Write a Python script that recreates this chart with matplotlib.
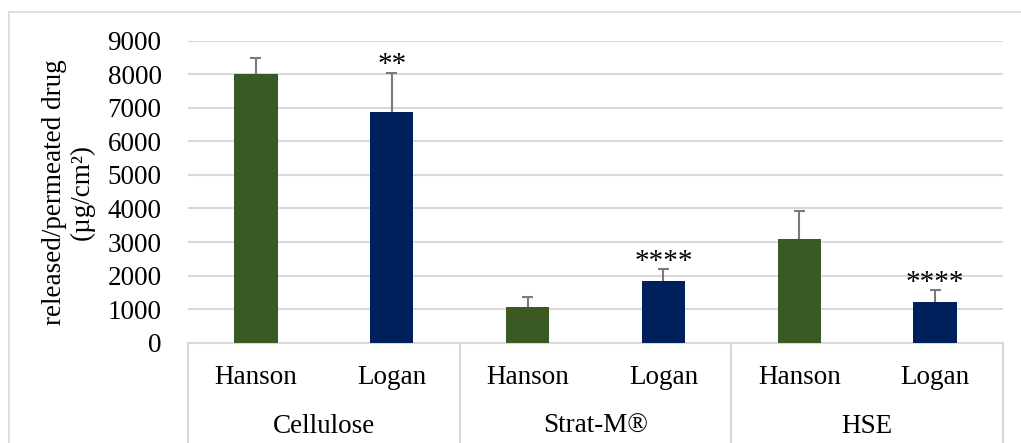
import numpy as np
import matplotlib.pyplot as plt
from matplotlib.lines import Line2D
from matplotlib.patches import Rectangle
import matplotlib.transforms as mtransforms

plt.rcParams['font.family'] = ['Liberation Serif', 'DejaVu Serif']

# membranes and cells
groups = ['Cellulose', 'Strat-M®', 'HSE']
cells = ['Hanson', 'Logan', 'Hanson', 'Logan', 'Hanson', 'Logan']
values = [8000, 6880, 1070, 1840, 3090, 1210]
errors = [480, 1170, 300, 350, 830, 360]
stars = ['', '**', '', '****', '', '****']

green = '#3B5A23'
navy = '#00205B'
bar_colors = [green, navy] * 3
fs = 19.5

fig = plt.figure(figsize=(10.21, 4.43), dpi=100)
W, H = 1021, 443

# light chart-area border
fig.patches.append(Rectangle((9 / W, -0.1), 1.2, (H - 12) / H + 0.1,
                             transform=fig.transFigure, fill=False,
                             edgecolor='#D9D9D9', linewidth=1.2))

ax = fig.add_axes([188 / W, (H - 342.7) / H, (1003 - 188) / W, 302 / H])
x = np.arange(len(values))
vals = np.array(values)
errs = np.array(errors)
ax.bar(x, vals, width=0.32, color=bar_colors, zorder=3)
# upper error bars only
ax.vlines(x, vals, vals + errs, color='#7A7A7A', linewidth=1.5, zorder=4)
ax.hlines(vals + errs, x - 0.04, x + 0.04, color='#7A7A7A', linewidth=1.5,
          zorder=4)

for xi, v, e, s in zip(x, vals, errs, stars):
    if s:
        ax.annotate(s, (xi, v + e), xytext=(0, -4), textcoords='offset points',
                    ha='center', va='bottom', fontsize=21)

ax.set_xlim(-0.5, 5.5)
ax.set_ylim(0, 9000)
ax.set_yticks(np.arange(0, 9001, 1000))
ax.yaxis.grid(True, color='#D9D9D9', linewidth=1.5, zorder=0)
ax.set_axisbelow(True)
for side in ['top', 'right', 'left']:
    ax.spines[side].set_visible(False)
ax.spines['bottom'].set_color('#D9D9D9')
ax.spines['bottom'].set_linewidth(1.5)
ax.tick_params(axis='y', length=0, labelsize=fs, pad=19)
ax.set_xticks(x)
ax.set_xticklabels(cells)
ax.tick_params(axis='x', length=0, labelsize=fs, pad=16)

ax.set_ylabel('released/permeated drug\n(µg/cm²)', fontsize=fs,
              linespacing=1.15, labelpad=9)

# group labels and separators below the axis
trans = mtransforms.blended_transform_factory(ax.transData, ax.transAxes)
for i, g in enumerate(groups):
    ax.text(2 * i + 0.5, -0.276, g, transform=trans, ha='center', va='center',
            fontsize=fs)
for xs in [-0.5, 1.5, 3.5, 5.5]:
    ax.add_line(Line2D([xs, xs], [0, -0.4], transform=trans, color='#D9D9D9',
                       linewidth=1.5, clip_on=False))

fig.savefig('out.png', dpi=100)
